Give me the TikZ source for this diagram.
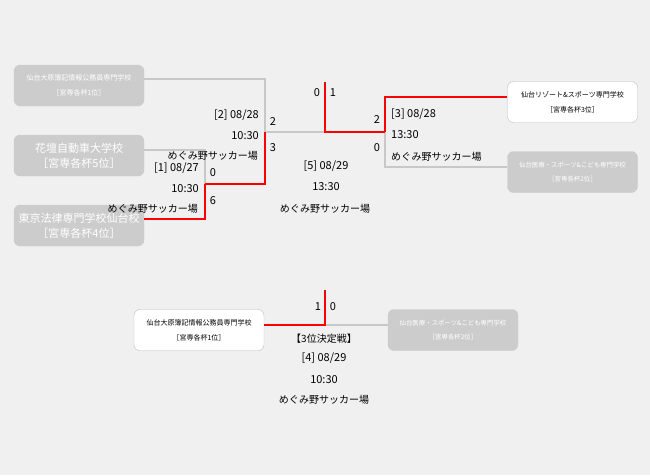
\documentclass[tikz,border=0pt]{standalone}
\usepackage{fontspec}
\setmainfont{Noto Sans CJK JP}
\definecolor{bg}{RGB}{240,240,240}
\definecolor{boxgray}{RGB}{204,204,204}
\definecolor{bordergray}{RGB}{190,190,190}
\definecolor{linegray}{RGB}{200,200,200}
\definecolor{winred}{RGB}{255,0,0}
\begin{document}
\begin{tikzpicture}[x=1pt,y=-1pt,
  team/.style={rectangle, rounded corners=6pt, minimum width=130pt, minimum height=41pt, inner sep=0pt, align=center},
  lost/.style={team, fill=boxgray, draw=boxgray, text=white},
  won/.style={team, fill=white, draw=bordergray, text=black},
  loseline/.style={draw=linegray, line width=2pt},
  winline/.style={draw=winred, line width=2pt},
  lbl/.style={inner sep=0pt, font=\fontsize{10}{12}\selectfont},
  num/.style={inner sep=0pt, font=\fontsize{11}{13}\selectfont},
  sml/.style={font=\fontsize{7}{15}\selectfont},
  smm/.style={font=\fontsize{6.4}{14}\selectfont},
  big/.style={font=\fontsize{11}{15}\selectfont},
]
\fill[bg] (0,0) rectangle (650,475);
\useasboundingbox (0,0) rectangle (650,475);

% team boxes
\node[lost, sml] (A) at (79,85.5) {仙台大原簿記情報公務員専門学校\\［宮専各杯1位］};
\node[lost, big] (B) at (79,155.5) {花壇自動車大学校\\［宮専各杯5位］};
\node[lost, big] (C) at (79,225.5) {東京法律専門学校仙台校\\［宮専各杯4位］};
\node[won, sml] (D) at (572.5,102) {仙台リゾート\&スポーツ専門学校\\［宮専各杯3位］};
\node[lost, smm] (E) at (572.5,172) {仙台医療・スポーツ\&こども専門学校\\［宮専各杯2位］};
\node[won, sml] (F) at (199,330) {仙台大原簿記情報公務員専門学校\\［宮専各杯1位］};
\node[lost, smm] (G) at (453,330) {仙台医療・スポーツ\&こども専門学校\\［宮専各杯2位］};

% joints
\coordinate (j1) at (205,184);
\coordinate (j2) at (265,132);
\coordinate (jf) at (325,132);
\coordinate (t5) at (325,82);
\coordinate (j3) at (385,132);
\coordinate (j4) at (325,325);
\coordinate (t4) at (325,290);

% losing paths
\draw[loseline] ([yshift=6.5pt]A.east) -| (j2);
\draw[loseline] ([yshift=5.5pt]B.east) -| (j1);
\draw[loseline] (j2) -- (jf);
\draw[loseline] ([yshift=5pt]E.west) -| (j3);
\draw[loseline] ([yshift=5pt]G.west) -- (j4);

% winning paths
\draw[winline] ([yshift=6.5pt]C.east) -| (j1);
\draw[winline] (j1) -| (j2);
\draw[winline] ([yshift=5pt]D.west) -| (j3);
\draw[winline] (j3) -- (jf) -- (t5);
\draw[winline] ([yshift=5pt]F.east) -- (j4) -- (t4);

% match [2]
\node[num, anchor=east] (m2a) at (259,115) {[2] 08/28};
\node[num, anchor=east] (m2b) at (259,136) {10:30};
\node[lbl, anchor=east] (m2c) at (258,156) {めぐみ野サッカー場};
\node[num] (s2a) at (273,121) {2};
\node[num] (s2b) at (273,148) {3};

% match [1]
\node[num, anchor=east] (m1a) at (199,168) {[1] 08/27};
\node[num, anchor=east] (m1b) at (199,189) {10:30};
\node[lbl, anchor=east] (m1c) at (198,209) {めぐみ野サッカー場};
\node[num] (s1a) at (213,173) {0};
\node[num] (s1b) at (213,201) {6};

% final [5]
\node[num] (sfa) at (317,93) {0};
\node[num] (sfb) at (333,93) {1};
\node[num] (m5a) at (326,166) {[5] 08/29};
\node[num] (m5b) at (326,187) {13:30};
\node[lbl] (m5c) at (325,209) {めぐみ野サッカー場};

% match [3]
\node[num] (s3a) at (377,120) {2};
\node[num] (s3b) at (377,148) {0};
\node[num, anchor=west] (m3a) at (391,114) {[3] 08/28};
\node[num, anchor=west] (m3b) at (391,135) {13:30};
\node[lbl, anchor=west] (m3c) at (391,157) {めぐみ野サッカー場};

% 3rd place [4]
\node[num] (s4a) at (318,307) {1};
\node[num] (s4b) at (333,307) {0};
\node[lbl] (m4t) at (324,339) {【3位決定戦】};
\node[num] (m4a) at (324,358) {[4] 08/29};
\node[num] (m4b) at (324,380) {10:30};
\node[lbl] (m4c) at (324,400) {めぐみ野サッカー場};
\end{tikzpicture}
\end{document}
